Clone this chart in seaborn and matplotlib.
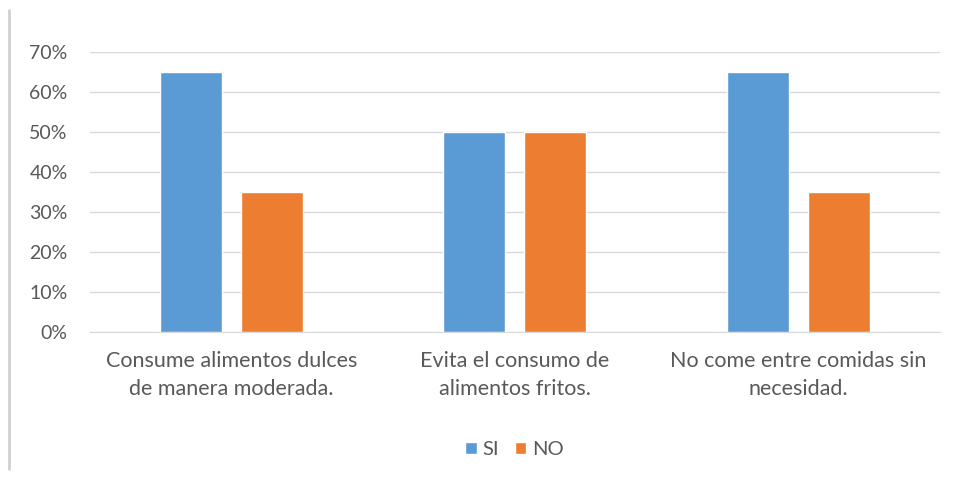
import pandas as pd
import numpy as np
import matplotlib.pyplot as plt
import seaborn as sns
from matplotlib.lines import Line2D
from matplotlib.ticker import PercentFormatter

categories = ['Consume alimentos dulces\nde manera moderada.',
              'Evita el consumo de\nalimentos fritos.',
              'No come entre comidas sin\nnecesidad.']
series = ['SI', 'NO']
si_values = [0.65, 0.50, 0.65]
no_values = [0.35, 0.50, 0.35]
colors = {'SI': '#5B9BD5', 'NO': '#ED7D31'}

df = pd.DataFrame({
    'Categoria': categories * 2,
    'Respuesta': ['SI'] * 3 + ['NO'] * 3,
    'Valor': si_values + no_values,
})

sns.set_style('white')
plt.rcParams['font.family'] = ['Lato', 'DejaVu Sans']

fig = plt.figure(figsize=(9.56, 4.79), dpi=100)
ax = fig.add_axes([0.094, 0.307, 0.889, 0.584])

sns.barplot(data=df, x='Categoria', y='Valor', hue='Respuesta',
            hue_order=series, palette=colors, width=0.572, gap=0.235,
            saturation=1, ax=ax, zorder=3)

ax.set_ylim(0, 0.7)
ax.set_yticks(np.arange(0, 0.71, 0.1))
ax.yaxis.set_major_formatter(PercentFormatter(1.0, decimals=0))
ax.grid(axis='y', color='#d9d9d9', linewidth=1, zorder=0)
ax.set_axisbelow(True)
for s in ['top', 'right', 'left']:
    ax.spines[s].set_visible(False)
ax.spines['bottom'].set_color('#d9d9d9')
ax.set_xlabel('')
ax.set_ylabel('')
ax.tick_params(axis='both', length=0, colors='#595959')
ax.tick_params(axis='y', pad=16, labelsize=14)
ax.tick_params(axis='x', pad=14, labelsize=15.5)
for lbl in ax.get_xticklabels():
    lbl.set_linespacing(1.45)

handles, labels = ax.get_legend_handles_labels()
ax.legend(handles, labels, loc='center', bbox_to_anchor=(0.5, -0.42),
          ncol=2, frameon=False, fontsize=14.5, labelcolor='#595959',
          handlelength=0.55, handleheight=0.55, handletextpad=0.3,
          columnspacing=0.8)

fig.add_artist(Line2D([0.009, 0.009], [0.02, 0.98], color='#d0d0d0',
                      linewidth=2, transform=fig.transFigure))

fig.savefig('out.png', dpi=100)
